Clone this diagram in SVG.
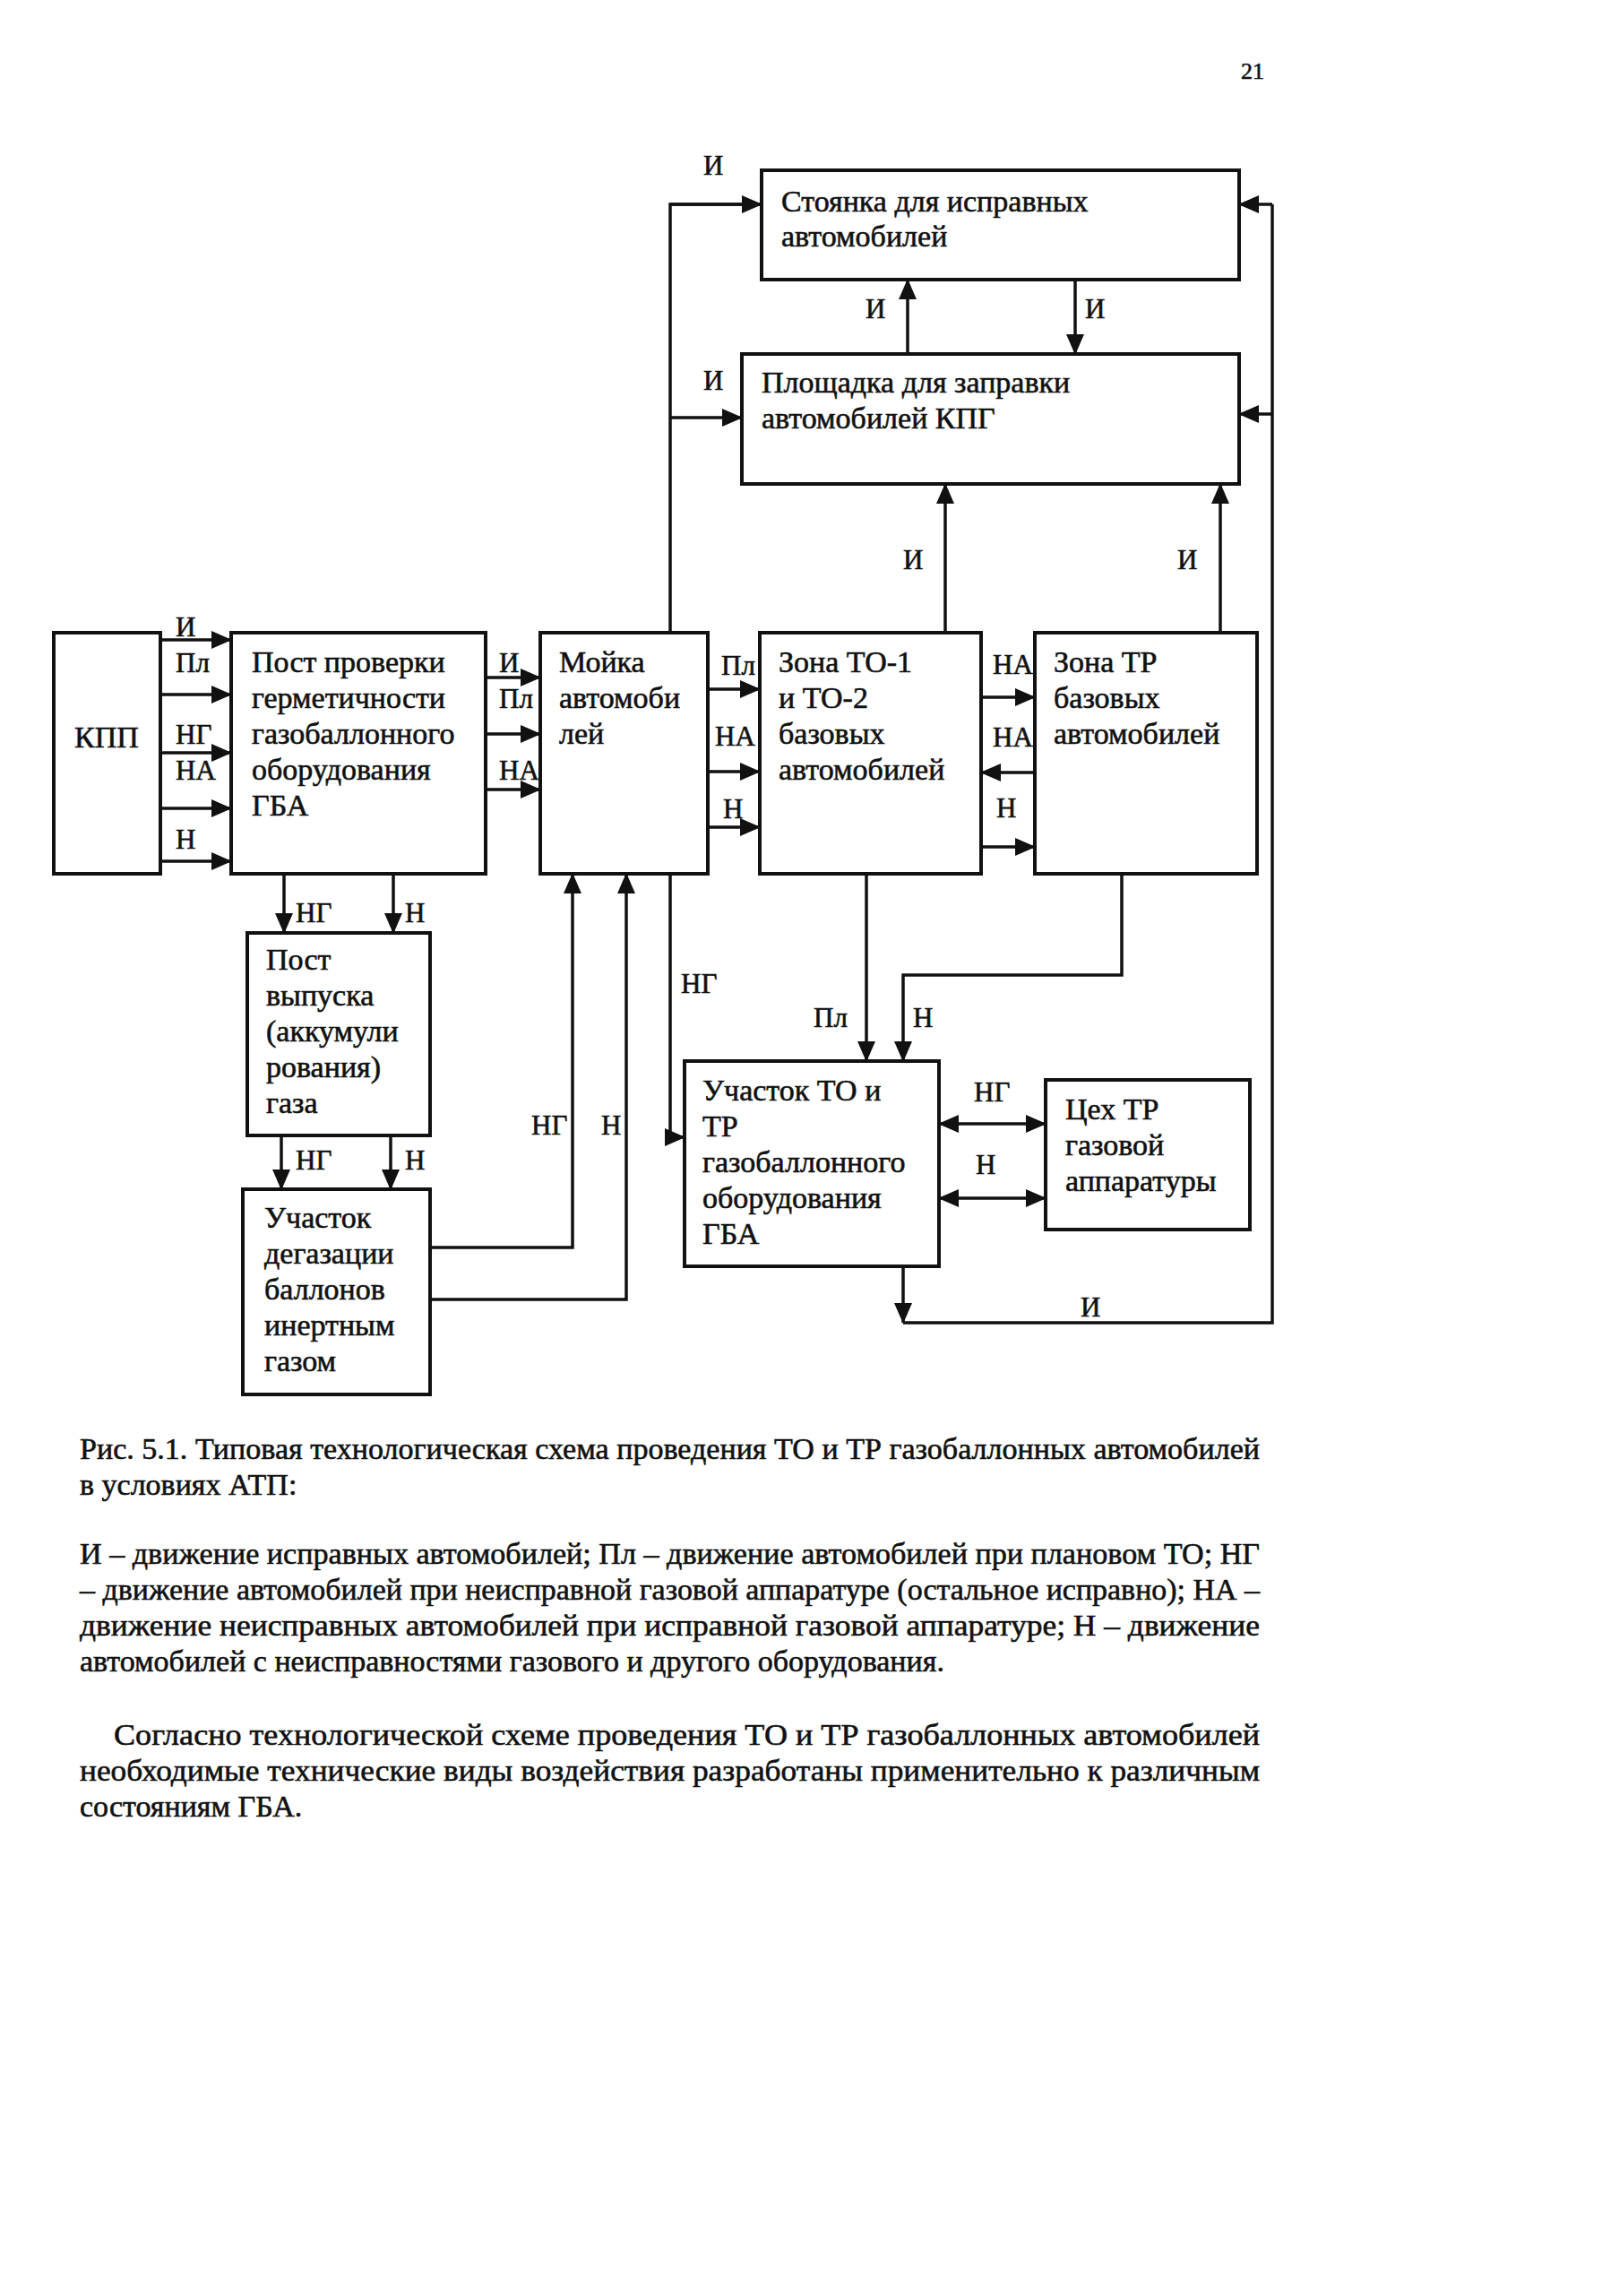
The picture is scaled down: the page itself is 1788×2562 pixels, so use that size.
<svg xmlns="http://www.w3.org/2000/svg" width="1788" height="2562" viewBox="0 0 1788 2562">
<style>
text{font-family:"Liberation Serif","Times New Roman",serif;fill:#111;stroke:#111;stroke-width:0.6;}
.t{font-size:34px;}
.l{font-size:31px;}
.c{font-size:34px;white-space:pre;}
.box{fill:#fff;stroke:#111;stroke-width:4;}
.ln{fill:none;stroke:#111;stroke-width:3.5;}
.a{marker-end:url(#ah);}
.d{marker-start:url(#ah);marker-end:url(#ah);}
</style>
<defs>
<marker id="ah" markerUnits="userSpaceOnUse" markerWidth="24" markerHeight="20" refX="22" refY="10" orient="auto-start-reverse">
<path d="M0,0 L23,10 L0,20 z" fill="#111"/>
</marker>
</defs>
<rect width="1788" height="2562" fill="#fff"/>
<text x="1385" y="88" style="font-size:26px">21</text>

<g id="connectors">
<path class="ln" d="M748,706 V228 H848"/>
<path class="ln a" d="M748,228 H850"/>
<path class="ln a" d="M748,466 H828"/>
<path class="ln a" d="M1013,395 V312"/>
<path class="ln a" d="M1200,312 V395"/>
<path class="ln a" d="M1055,706 V540"/>
<path class="ln a" d="M1362,706 V540"/>
<path class="ln a" d="M1008,1413 V1476"/>
<path class="ln" d="M1008,1476 H1420 V228"/>
<path class="ln a" d="M1420,228 H1383"/>
<path class="ln a" d="M1420,462 H1383"/>
<path class="ln a" d="M179,714 H258"/>
<path class="ln a" d="M179,775 H258"/>
<path class="ln a" d="M179,840 H258"/>
<path class="ln a" d="M179,902 H258"/>
<path class="ln a" d="M179,961 H258"/>
<path class="ln a" d="M542,756 H603"/>
<path class="ln a" d="M542,819 H603"/>
<path class="ln a" d="M542,881 H603"/>
<path class="ln a" d="M790,769 H848"/>
<path class="ln a" d="M790,861 H848"/>
<path class="ln a" d="M790,923 H848"/>
<path class="ln a" d="M1095,778 H1155"/>
<path class="ln a" d="M1155,862 H1095"/>
<path class="ln a" d="M1095,945 H1155"/>
<path class="ln a" d="M317,975 V1041"/>
<path class="ln a" d="M439,975 V1041"/>
<path class="ln a" d="M314,1267 V1327"/>
<path class="ln a" d="M436,1267 V1327"/>
<path class="ln a" d="M480,1392 H639 V975"/>
<path class="ln a" d="M480,1450 H699 V975"/>
<path class="ln a" d="M748,975 V1269 H764"/>
<path class="ln a" d="M967,975 V1184"/>
<path class="ln a" d="M1252,975 V1088 H1008 V1184"/>
<path class="ln d" d="M1048,1254 H1167"/>
<path class="ln d" d="M1048,1337 H1167"/>
</g>

<g id="labels" class="l">
<text x="785" y="195">И</text>
<text x="785" y="435">И</text>
<text x="966" y="355">И</text>
<text x="1211" y="355">И</text>
<text x="1008" y="635">И</text>
<text x="1314" y="635">И</text>
<text x="196" y="710">И</text>
<text x="196" y="750">Пл</text>
<text x="196" y="830">НГ</text>
<text x="196" y="870">НА</text>
<text x="196" y="947">Н</text>
<text x="557" y="750">И</text>
<text x="557" y="790">Пл</text>
<text x="557" y="870">НА</text>
<text x="805" y="753">Пл</text>
<text x="798" y="832">НА</text>
<text x="807" y="913">Н</text>
<text x="1108" y="752">НА</text>
<text x="1108" y="833">НА</text>
<text x="1112" y="912">Н</text>
<text x="330" y="1029">НГ</text>
<text x="452" y="1029">Н</text>
<text x="330" y="1305">НГ</text>
<text x="452" y="1305">Н</text>
<text x="593" y="1266">НГ</text>
<text x="671" y="1266">Н</text>
<text x="760" y="1108">НГ</text>
<text x="908" y="1146">Пл</text>
<text x="1019" y="1146">Н</text>
<text x="1087" y="1229">НГ</text>
<text x="1089" y="1310">Н</text>
<text x="1206" y="1469">И</text>
</g>

<g id="stoyanka">
<rect class="box" x="850" y="190" width="533" height="122"/>
<text class="t" x="872" y="236">Стоянка для исправных</text>
<text class="t" x="872" y="275">автомобилей</text>
</g>
<g id="ploshchadka">
<rect class="box" x="828" y="395" width="555" height="145"/>
<text class="t" x="850" y="438">Площадка для заправки</text>
<text class="t" x="850" y="478">автомобилей КПГ</text>
</g>
<g id="kpp">
<rect class="box" x="60" y="706" width="119" height="269"/>
<text class="t" x="119" y="834" text-anchor="middle">КПП</text>
</g>
<g id="post-proverki">
<rect class="box" x="258" y="706" width="284" height="269"/>
<text class="t" x="281" y="750">Пост проверки</text>
<text class="t" x="281" y="790">герметичности</text>
<text class="t" x="281" y="830">газобаллонного</text>
<text class="t" x="281" y="870">оборудования</text>
<text class="t" x="281" y="910">ГБА</text>
</g>
<g id="moyka">
<rect class="box" x="603" y="706" width="187" height="269"/>
<text class="t" x="624" y="750">Мойка</text>
<text class="t" x="624" y="790">автомоби</text>
<text class="t" x="624" y="830">лей</text>
</g>
<g id="zona-to">
<rect class="box" x="848" y="706" width="247" height="269"/>
<text class="t" x="869" y="750">Зона ТО-1</text>
<text class="t" x="869" y="790">и ТО-2</text>
<text class="t" x="869" y="830">базовых</text>
<text class="t" x="869" y="870">автомобилей</text>
</g>
<g id="zona-tr">
<rect class="box" x="1155" y="706" width="248" height="269"/>
<text class="t" x="1176" y="750">Зона ТР</text>
<text class="t" x="1176" y="790">базовых</text>
<text class="t" x="1176" y="830">автомобилей</text>
</g>
<g id="post-vypuska">
<rect class="box" x="276" y="1041" width="204" height="226"/>
<text class="t" x="297" y="1082">Пост</text>
<text class="t" x="297" y="1122">выпуска</text>
<text class="t" x="297" y="1162">(аккумули</text>
<text class="t" x="297" y="1202">рования)</text>
<text class="t" x="297" y="1242">газа</text>
</g>
<g id="uchastok-degazatsii">
<rect class="box" x="271" y="1327" width="209" height="229"/>
<text class="t" x="295" y="1370">Участок</text>
<text class="t" x="295" y="1410">дегазации</text>
<text class="t" x="295" y="1450">баллонов</text>
<text class="t" x="295" y="1490">инертным</text>
<text class="t" x="295" y="1530">газом</text>
</g>
<g id="uchastok-to">
<rect class="box" x="764" y="1184" width="284" height="229"/>
<text class="t" x="784" y="1228">Участок ТО и</text>
<text class="t" x="784" y="1268">ТР</text>
<text class="t" x="784" y="1308">газобаллонного</text>
<text class="t" x="784" y="1348">оборудования</text>
<text class="t" x="784" y="1388">ГБА</text>
</g>
<g id="tsekh-tr">
<rect class="box" x="1167" y="1205" width="228" height="167"/>
<text class="t" x="1189" y="1249">Цех ТР</text>
<text class="t" x="1189" y="1289">газовой</text>
<text class="t" x="1189" y="1329">аппаратуры</text>
</g>

<g id="caption" class="c">
<text x="89" y="1628" textLength="1317" lengthAdjust="spacingAndGlyphs">Рис. 5.1. Типовая технологическая схема проведения ТО и ТР газобаллонных автомобилей</text>
<text x="89" y="1668">в  условиях АТП:</text>
<text x="89" y="1745" textLength="1317" lengthAdjust="spacingAndGlyphs">И – движение исправных автомобилей; Пл – движение автомобилей при плановом ТО; НГ</text>
<text x="89" y="1785" textLength="1317" lengthAdjust="spacingAndGlyphs">– движение автомобилей при неисправной газовой аппаратуре (остальное исправно); НА –</text>
<text x="89" y="1825" textLength="1317" lengthAdjust="spacingAndGlyphs">движение неисправных автомобилей при исправной газовой аппаратуре; Н – движение</text>
<text x="89" y="1865">автомобилей с неисправностями газового и другого оборудования.</text>
<text x="127" y="1947" textLength="1279" lengthAdjust="spacingAndGlyphs">Согласно технологической схеме проведения ТО и ТР газобаллонных автомобилей</text>
<text x="89" y="1987" textLength="1317" lengthAdjust="spacingAndGlyphs">необходимые технические виды воздействия разработаны применительно к различным</text>
<text x="89" y="2027">состояниям ГБА.</text>
</g>
</svg>
